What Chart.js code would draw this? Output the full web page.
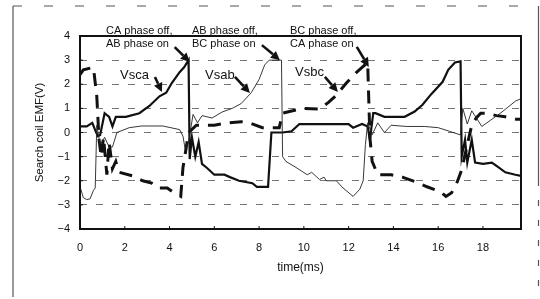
<!DOCTYPE html>
<html>
<head>
<meta charset="utf-8">
<script src="https://cdn.jsdelivr.net/npm/chart.js@4"></script>
<style>
  html, body { margin: 0; padding: 0; background: #fff; }
</style>
</head>
<body>
<canvas id="myChart" width="540" height="299"></canvas>
<script>
// time (ms) / voltage (V)
const tSca = [0, 0.3, 0.55, 0.7, 0.8, 0.9, 1.1, 1.3, 1.45, 1.6, 2.05, 2.65, 3.1, 3.55, 3.85, 4.1, 4.45, 4.65, 4.85, 4.9, 5.0, 5.15, 5.3, 5.45, 5.65, 6.0, 6.45, 6.7, 7.1, 7.7, 7.9, 8.4, 8.55, 9.05, 9.45, 9.8, 12.0, 12.2, 12.6, 12.85, 12.95, 13.1, 13.2, 13.6, 14.5, 14.95, 15.3, 15.7, 16.2, 16.45, 16.75, 17.0, 17.05, 17.2, 17.3, 17.5, 17.65, 18.0, 18.4, 18.7, 19.0, 19.45, 19.7];
const vSca = [0.25, 0.25, 0.4, 0.05, -0.15, -0.1, 0.8, 0.65, 0.25, 0.65, 0.65, 0.8, 1.1, 1.5, 1.65, 2.05, 2.5, 2.7, 3.0, -1.1, -0.2, -1.0, -0.4, -1.3, -1.45, -1.75, -1.75, -1.85, -2.0, -2.1, -2.25, -2.25, 0.0, 0.0, 0.05, 0.35, 0.35, 0.2, 0.35, 0.25, -0.3, 0.8, 0.8, 0.65, 0.65, 0.87, 1.15, 1.6, 2.1, 2.6, 2.9, 2.95, -1.0, -0.3, -1.25, -0.3, -1.25, -1.3, -1.25, -1.45, -1.65, -1.75, -1.8];

const tSab = [0, 0.15, 0.3, 0.45, 0.6, 0.68, 0.75, 0.9, 1.1, 1.3, 1.45, 1.65, 2.2, 2.75, 3.7, 4.45, 4.6, 4.7, 4.85, 5.05, 5.25, 5.45, 5.9, 6.35, 6.8, 7.2, 7.65, 8.0, 8.25, 8.45, 9.0, 9.05, 9.2, 9.65, 10.15, 10.35, 10.7, 10.9, 11.0, 11.45, 11.75, 12.2, 12.5, 12.65, 12.75, 12.85, 13.05, 13.3, 13.6, 13.9, 14.6, 15.4, 16.0, 16.5, 17.0, 17.1, 17.3, 17.5, 17.95, 18.4, 18.85, 19.45, 19.7];
const vSab = [-2.25, -2.7, -2.78, -2.75, -2.4, -2.3, 0.3, -0.5, -0.2, -0.6, -0.6, 0.0, 0.2, 0.27, 0.27, 0.12, -0.15, -0.7, -0.4, 0.75, 0.4, 0.7, 0.6, 0.85, 1.0, 1.2, 1.65, 2.2, 2.8, 3.0, 3.0, -1.0, -1.2, -1.45, -1.75, -1.65, -1.95, -1.85, -2.0, -2.0, -2.3, -2.65, -2.35, -2.0, -0.5, 0.4, -0.1, 0.4, 0.0, 0.3, 0.25, 0.25, 0.2, 0.05, -0.1, 1.0, 0.35, 0.9, 0.25, 0.55, 0.85, 1.3, 1.4];

const tSbc = [0, 0.15, 0.6, 0.75, 0.85, 0.95, 1.05, 1.2, 1.3, 1.45, 1.6, 1.75, 2.35, 2.8, 3.2, 3.45, 3.9, 4.2, 4.5, 4.6, 4.75, 4.85, 5.2, 6.0, 6.6, 7.2, 7.65, 8.15, 8.9, 9.05, 9.5, 10.0, 10.7, 11.1, 11.4, 11.9, 12.3, 12.6, 12.85, 12.95, 13.05, 13.3, 13.9, 14.4, 15.0, 15.5, 16.1, 16.35, 16.6, 16.85, 17.05, 17.3, 17.5, 17.7, 17.9, 18.2, 18.6, 19.0, 19.5, 19.7];
const vSbc = [2.4, 2.6, 2.7, 1.5, -0.3, -1.0, -0.2, -1.75, -0.4, -1.5, -1.2, -1.65, -1.8, -2.0, -2.1, -2.3, -2.3, -2.5, -2.65, -1.45, -0.6, 0.0, 0.3, 0.3, 0.4, 0.45, 0.37, 0.2, 0.2, 0.8, 0.9, 1.0, 0.97, 1.25, 1.5, 2.05, 2.45, 2.7, 2.9, -0.2, -1.2, -1.75, -1.75, -1.85, -2.05, -2.25, -2.45, -2.65, -2.5, -2.05, -1.55, -0.5, 0.3, 0.6, 0.8, 0.8, 0.7, 0.65, 0.55, 0.55];

const xTicks = [0, 2, 4, 6, 8, 10, 12, 14, 16, 18];
const yTicks = [-4, -3, -2, -1, 0, 1, 2, 3, 4];

const FONT = "'Liberation Sans', Arial, sans-serif";
const toPoints = (ts, vs) => ts.map((t, i) => ({ x: t, y: vs[i] }));

// arrows: head anchored on data coords, tail given as pixel offset
const arrows = [
    { t: 4.9, v: 2.92, dx: -15, dy: -15 },
    { t: 8.93, v: 3.0, dx: -18, dy: -15 },
    { t: 12.9, v: 2.72, dx: -12, dy: -20 },
    { t: 3.66, v: 1.68, dx: -7, dy: -15 },
    { t: 7.59, v: 1.64, dx: -15, dy: -16 },
    { t: 11.52, v: 1.68, dx: -13, dy: -15 }
];
const notes = [
    { text: 'CA phase off,', x: 106, y: 31, size: 11 },
    { text: 'AB phase on', x: 106, y: 44, size: 11 },
    { text: 'AB phase off,', x: 192, y: 31, size: 11 },
    { text: 'BC phase on', x: 192, y: 44, size: 11 },
    { text: 'BC phase off,', x: 290, y: 31, size: 11 },
    { text: 'CA phase on', x: 290, y: 44, size: 11 },
    { text: 'Vsca', x: 120, y: 75, size: 13 },
    { text: 'Vsab', x: 205, y: 75, size: 13 },
    { text: 'Vsbc', x: 295, y: 72, size: 13 }
];

function drawArrow(ctx, x0, y0, x1, y1) {
    const a = Math.atan2(y1 - y0, x1 - x0);
    const len = 9, w = 4.5;
    const bx = x1 - len * Math.cos(a), by = y1 - len * Math.sin(a);
    ctx.lineWidth = 2.6;
    ctx.beginPath(); ctx.moveTo(x0, y0); ctx.lineTo(bx, by); ctx.stroke();
    ctx.beginPath();
    ctx.moveTo(x1, y1);
    ctx.lineTo(bx + w * Math.sin(a), by - w * Math.cos(a));
    ctx.lineTo(bx - w * Math.sin(a), by + w * Math.cos(a));
    ctx.closePath(); ctx.fill();
}

const decor = {
    id: 'decor',
    afterDraw(chart) {
        const ctx = chart.ctx, a = chart.chartArea;
        const xs = chart.scales.x, ys = chart.scales.y;
        ctx.save();
        ctx.strokeStyle = '#111'; ctx.fillStyle = '#111';
        // plot frame
        ctx.lineWidth = 2;
        ctx.strokeRect(a.left, a.top, a.right - a.left, a.bottom - a.top);
        // small inward ticks
        ctx.lineWidth = 1;
        xTicks.forEach(t => {
            const px = xs.getPixelForValue(t);
            ctx.beginPath(); ctx.moveTo(px, a.bottom); ctx.lineTo(px, a.bottom - 3); ctx.stroke();
        });
        yTicks.forEach(v => {
            const py = ys.getPixelForValue(v);
            ctx.beginPath(); ctx.moveTo(a.left, py); ctx.lineTo(a.left + 3, py); ctx.stroke();
        });
        // scanned page edge
        ctx.strokeStyle = '#555'; ctx.lineWidth = 1.2;
        ctx.beginPath(); ctx.moveTo(13, 6); ctx.lineTo(13, 297); ctx.stroke();
        ctx.beginPath(); ctx.moveTo(538.5, 6); ctx.lineTo(538.5, 180); ctx.stroke();
        ctx.setLineDash([6, 14]);
        ctx.beginPath(); ctx.moveTo(538.5, 180); ctx.lineTo(538.5, 295); ctx.stroke();
        ctx.setLineDash([9, 22]);
        ctx.beginPath(); ctx.moveTo(13, 6); ctx.lineTo(538, 6); ctx.stroke();
        ctx.setLineDash([]);
        // annotations
        ctx.fillStyle = '#111'; ctx.strokeStyle = '#111';
        ctx.textBaseline = 'middle'; ctx.textAlign = 'left';
        notes.forEach(n => {
            ctx.font = n.size + 'px ' + FONT;
            ctx.fillText(n.text, n.x, n.y);
        });
        arrows.forEach(r => {
            const hx = xs.getPixelForValue(r.t), hy = ys.getPixelForValue(r.v);
            drawArrow(ctx, hx + r.dx, hy + r.dy, hx, hy);
        });
        ctx.restore();
    }
};

const ctx = document.getElementById('myChart').getContext('2d');
new Chart(ctx, {
    type: 'scatter',
    data: {
        datasets: [
            { label: 'Vsab', data: toPoints(tSab, vSab), showLine: true, borderColor: '#222', borderWidth: 0.9, pointRadius: 0, tension: 0 },
            { label: 'Vsbc', data: toPoints(tSbc, vSbc), showLine: true, borderColor: '#111', borderWidth: 3, borderDash: [13, 9], pointRadius: 0, tension: 0 },
            { label: 'Vsca', data: toPoints(tSca, vSca), showLine: true, borderColor: '#111', borderWidth: 2.2, pointRadius: 0, tension: 0 }
        ]
    },
    options: {
        responsive: false,
        animation: false,
        layout: { padding: { left: 29, right: 19, top: 36, bottom: 0 } },
        plugins: { legend: { display: false }, tooltip: { enabled: false } },
        scales: {
            x: {
                type: 'linear', min: 0, max: 19.7,
                afterFit: s => { s.height = 70; },
                afterBuildTicks: s => { s.ticks = xTicks.map(v => ({ value: v })); },
                ticks: { color: '#111', font: { family: FONT, size: 11 }, padding: 12 },
                grid: { display: false, drawTicks: false },
                border: { display: false },
                title: { display: true, text: 'time(ms)', color: '#111', font: { family: FONT, size: 12 }, padding: { top: 0, bottom: 24 } }
            },
            y: {
                min: -4, max: 4,
                afterFit: s => { s.width = 51; },
                afterBuildTicks: s => { s.ticks = yTicks.map(v => ({ value: v })); },
                ticks: { color: '#111', font: { family: FONT, size: 11 }, padding: 10,
                    callback: v => v < 0 ? '\u2212' + Math.abs(v) : String(v) },
                grid: { color: '#777', lineWidth: 1, drawTicks: false, tickBorderDash: [], },
                border: { display: false, dash: [7, 9] },
                title: { display: true, text: 'Search coil EMF(V)', color: '#111', font: { family: FONT, size: 11.5 }, padding: { top: 4, bottom: 0 } }
            }
        }
    },
    plugins: [decor]
});
</script>
</body>
</html>
